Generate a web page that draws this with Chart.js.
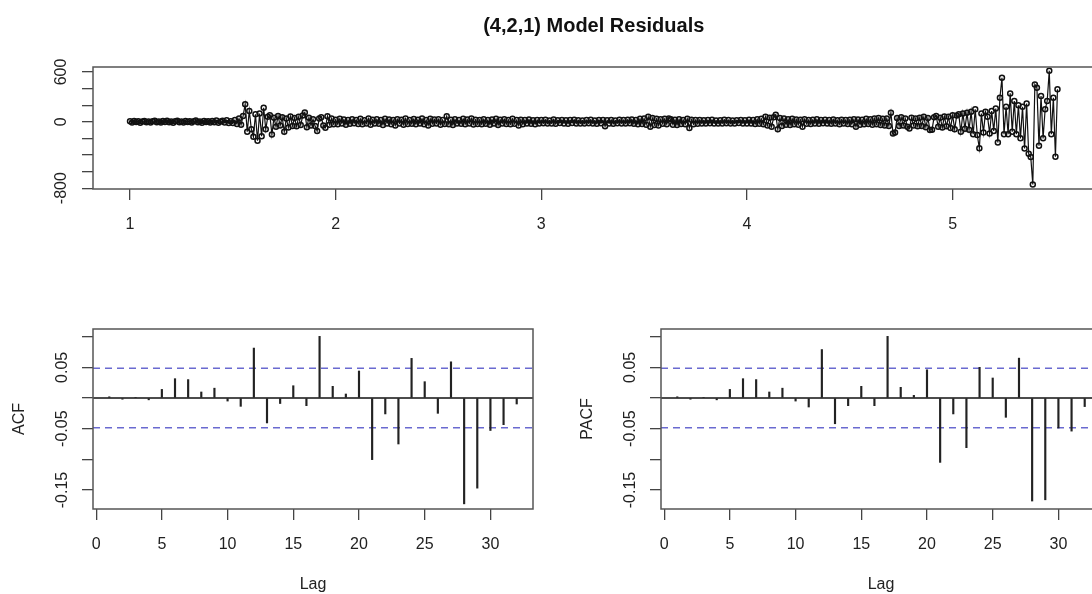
<!DOCTYPE html>
<html>
<head>
<meta charset="utf-8">
<script src="https://cdn.jsdelivr.net/npm/chart.js@4.4.1/dist/chart.umd.min.js"></script>
<style>
  html, body { margin: 0; padding: 0; background: #fff; }
  #wrap { position: relative; width: 1092px; height: 594px; overflow: hidden; }
  canvas { position: absolute; }
</style>
</head>
<body>
<div id="wrap">
  <canvas id="res" width="1100" height="250" style="left:0px;top:0px"></canvas>
  <canvas id="acf" width="560" height="344" style="left:0px;top:250px"></canvas>
  <canvas id="pacf" width="560" height="344" style="left:568px;top:250px"></canvas>
</div>
<script>
const FONT = "'Liberation Sans', Arial, Helvetica, sans-serif";
const INK = "#222";

// residuals at 100 samples per time unit, from t = 1
const resStart = 1;
const resFreq = 100;
const residuals = [
  5, -8, 10, -4, 7, -12, 3, 9, -6, 4,
  -10, 6, 12, -5, 2, -9, 8, -3, 11, -7,
  4, -11, 7, 13, -6, 3, -8, 10, -2, 6,
  -9, 5, 14, -7, 2, -12, 9, -4, 6, -10,
  8, -5, 15, -13, 4, 11, -9, 18, -14, 7,
  -15, 20, -28, 40, -35, 70, 210, -120, 130, -90,
  -181, 90, -229, 100, -173, 169, -90, 60, 80, -152,
  50, -60, 70, -45, 55, -120, 40, -70, 65, -50,
  45, -55, 60, -40, 75, 113, -65, 50, -45, 30,
  -50, -112, 40, 55, -45, -72, 68, -35, 40, -30,
  25, -30, 35, -20, 28, -35, 20, -25, 30, -18,
  22, -28, 35, -30, 18, -22, 40, -35, 25, -20,
  30, -25, 20, -38, 35, -20, 28, -30, 22, -45,
  30, -20, 25, -35, 40, -28, 20, -25, 32, -30,
  25, -22, 38, -30, 20, -45, 35, -25, 28, -20,
  30, -35, 22, -28, 68, -30, 25, -40, 30, -22,
  20, -25, 35, -30, 28, -20, 40, -32, 25, -28,
  22, -30, 30, -25, 20, -35, 28, -22, 35, -40,
  25, -20, 30, -28, 22, -30, 35, -25, 20, -45,
  25, -30, 20, -22, 28, -25, 18, -30, 22, -20,
  20, -18, 25, -22, 15, -20, 28, -25, 18, -15,
  22, -20, 18, -25, 20, -15, 25, -22, 18, -20,
  15, -22, 20, -18, 25, -20, 15, -25, 22, -18,
  20, -55, 18, -20, 22, -25, 15, -18, 25, -20,
  20, -22, 25, -18, 28, -25, 20, -30, 35, -28,
  40, -35, 60, -60, 45, -40, 35, -45, 30, -25,
  35, -30, 40, 30, -35, 25, -40, 30, -28, 22,
  -30, 35, -75, 25, -30, 20, -25, 22, -20, 18,
  -22, 20, -18, 25, -20, 15, -22, 18, -20, 25,
  -18, 20, -22, 15, -20, 18, -15, 22, -20, 18,
  -20, 25, -22, 20, -28, 30, -25, 35, -30, 60,
  -45, 50, -60, 55, 85, -90, 45, -50, 40, -35,
  30, -40, 35, -30, 28, -35, 25, -60, 30, -25,
  22, -28, 25, -20, 30, -25, 22, -18, 25, -22,
  20, -25, 28, -22, 18, -30, 25, -20, 22, -28,
  25, -30, 30, -60, 28, -35, 25, -30, 35, -28,
  30, -35, 40, -30, 45, -40, 35, -45, 40, -50,
  110, -140, -130, 45, -50, 55, -45, 40, -60, -80,
  50, -45, 40, -55, 48, -50, 60, -65, 45, -100,
  -95, 55, 70, -60, 50, -70, 65, -55, 60, -75,
  80, -90, 75, 90, -120, 100, -85, 110, -95, 120,
  -150, 150, -160, -320, 100, -130, 120, 60, -140, 130,
  -110, 160, -249, 290, 531, -150, 180, -150, 342, -120,
  250, -150, 200, -200, 180, -321, 220, -385, -425, -756,
  450, 410, -290, 310, -200, 150, 250, 616, -150, 290,
  -420, 391
];
const resXTicks = [1, 2, 3, 4, 5];
const resYTicks = [-800, -600, -400, -200, 0, 200, 400, 600];
const resYLabels = ["-800", "", "", "", "0", "", "", "600"];
const resXMin = 0.82, resXMax = 5.69;
const resYMin = -810, resYMax = 660;

const lags = [1, 2, 3, 4, 5, 6, 7, 8, 9, 10, 11, 12, 13, 14, 15, 16,
              17, 18, 19, 20, 21, 22, 23, 24, 25, 26, 27, 28, 29, 30, 31, 32];
const acfVals = [0.002, -0.002, 0.001, -0.003, 0.014, 0.0315, 0.030, 0.0098,
                 0.016, -0.005, -0.0136, 0.0814, -0.0407, -0.009, 0.020, -0.0125,
                 0.1005, 0.019, 0.0065, 0.044, -0.1005, -0.026, -0.075, 0.0646,
                 0.0266, -0.025, 0.059, -0.1726, -0.147, -0.053, -0.0435, -0.0098];
const pacfVals = [0.002, -0.002, 0.001, -0.003, 0.014, 0.0315, 0.030, 0.0098,
                  0.016, -0.005, -0.0147, 0.079, -0.042, -0.0125, 0.019, -0.0125,
                  0.1005, 0.0174, 0.0043, 0.046, -0.105, -0.026, -0.081, 0.050,
                  0.0326, -0.0315, 0.065, -0.168, -0.166, -0.049, -0.054, -0.014];
const ciLevel = 0.0485;   // 1.96 / sqrt(n)
const lagTicks = [0, 5, 10, 15, 20, 25, 30];
const corrYTicks = [-0.15, -0.10, -0.05, 0, 0.05, 0.10];
const corrYLabels = ["-0.15", "", "-0.05", "", "0.05", ""];
const lagMin = -0.24, lagMax = 33.24;
const corrMin = -0.181, corrMax = 0.1125;

// box round the plot, zero line, rotated y labels (R style)
const rFrame = {
  id: "rFrame",
  beforeDatasetsDraw(chart, args, o) {
    if (!o.zero) return;
    const { ctx, chartArea: a } = chart;
    const py = chart.scales.y.getPixelForValue(0);
    ctx.save();
    ctx.strokeStyle = "#111"; ctx.lineWidth = 1.3;
    ctx.beginPath(); ctx.moveTo(a.left, py); ctx.lineTo(a.right, py); ctx.stroke();
    ctx.restore();
  },
  afterDraw(chart, args, o) {
    const { ctx, chartArea: a } = chart;
    const y = chart.scales.y;
    ctx.save();
    ctx.strokeStyle = "#555"; ctx.lineWidth = 1.5;
    ctx.strokeRect(a.left, a.top, a.right - a.left, a.bottom - a.top);
    ctx.fillStyle = INK;
    ctx.font = `16px ${FONT}`;
    ctx.textAlign = "center"; ctx.textBaseline = "middle";
    y.ticks.forEach((t, i) => {
      const lab = o.labels[i];
      if (!lab) return;
      ctx.save();
      ctx.translate(o.labelX, y.getPixelForValue(t.value));
      ctx.rotate(-Math.PI / 2);
      ctx.fillText(lab, 0, 0);
      ctx.restore();
    });
    ctx.restore();
  }
};

const gridOpts = { drawOnChartArea: false, drawTicks: true, tickLength: 11, color: "#444", lineWidth: 1.3, offset: false };

function xAxis(min, max, ticks, height, title) {
  return {
    type: "linear", min, max, offset: false,
    afterBuildTicks: s => { s.ticks = ticks.map(v => ({ value: v })); },
    afterFit: s => { s.height = height; },
    grid: gridOpts,
    border: { display: false },
    ticks: { color: INK, font: { family: FONT, size: 16 }, padding: 15, maxRotation: 0, autoSkip: false, callback: v => String(v) },
    title: title
      ? { display: true, text: title, color: INK, font: { family: FONT, size: 16 }, padding: { top: 0, bottom: 0 } }
      : { display: false }
  };
}

function yAxis(min, max, ticks, title) {
  return {
    type: "linear", min, max,
    afterBuildTicks: s => { s.ticks = ticks.map(v => ({ value: v })); },
    afterFit: s => { s.width = 93; },
    grid: gridOpts,
    border: { display: false },
    ticks: { callback: () => "" },
    title: title
      ? { display: true, text: title, color: INK, font: { family: FONT, size: 16 }, padding: { top: 10.4, bottom: 0 } }
      : { display: false }
  };
}

const noChrome = { legend: { display: false }, tooltip: { enabled: false } };

new Chart(document.getElementById("res"), {
  type: "line",
  data: {
    datasets: [{
      data: residuals.map((v, i) => ({ x: resStart + i / resFreq, y: v })),
      borderColor: "#111", borderWidth: 1.2, tension: 0,
      pointRadius: 2.5, pointBorderWidth: 1.5, pointBorderColor: "#111",
      pointBackgroundColor: "rgba(255,255,255,0)"
    }]
  },
  options: {
    responsive: false, animation: false,
    layout: { padding: { left: 0, right: 4, top: 0, bottom: 0 } },
    scales: {
      x: xAxis(resXMin, resXMax, resXTicks, 61),
      y: yAxis(resYMin, resYMax, resYTicks)
    },
    plugins: {
      ...noChrome,
      title: {
        display: true, text: "(4,2,1) Model Residuals", fullSize: false, color: "#111",
        font: { family: FONT, size: 20, weight: "bold" }, padding: { top: 14, bottom: 29 }
      },
      rFrame: { zero: false, labels: resYLabels, labelX: 62 }
    }
  },
  plugins: [rFrame]
});

function corrChart(id, vals, yTitle) {
  const ciLine = lvl => ({
    type: "line",
    data: [{ x: lagMin, y: lvl }, { x: lagMax, y: lvl }],
    borderColor: "#6a6ad0", borderWidth: 1.5, borderDash: [7, 5], pointRadius: 0
  });
  return new Chart(document.getElementById(id), {
    type: "bar",
    data: {
      datasets: [
        { type: "bar", data: lags.map((l, i) => ({ x: l, y: vals[i] })), backgroundColor: "#222", barThickness: 1.5 },
        ciLine(ciLevel),
        ciLine(-ciLevel)
      ]
    },
    options: {
      responsive: false, animation: false,
      layout: { padding: { left: 0, right: 27, top: 79, bottom: 0 } },
      scales: {
        x: xAxis(lagMin, lagMax, lagTicks, 85, "Lag"),
        y: yAxis(corrMin, corrMax, corrYTicks, yTitle)
      },
      plugins: { ...noChrome, rFrame: { zero: true, labels: corrYLabels, labelX: 63 } }
    },
    plugins: [rFrame]
  });
}

corrChart("acf", acfVals, "ACF");
corrChart("pacf", pacfVals, "PACF");
</script>
</body>
</html>
